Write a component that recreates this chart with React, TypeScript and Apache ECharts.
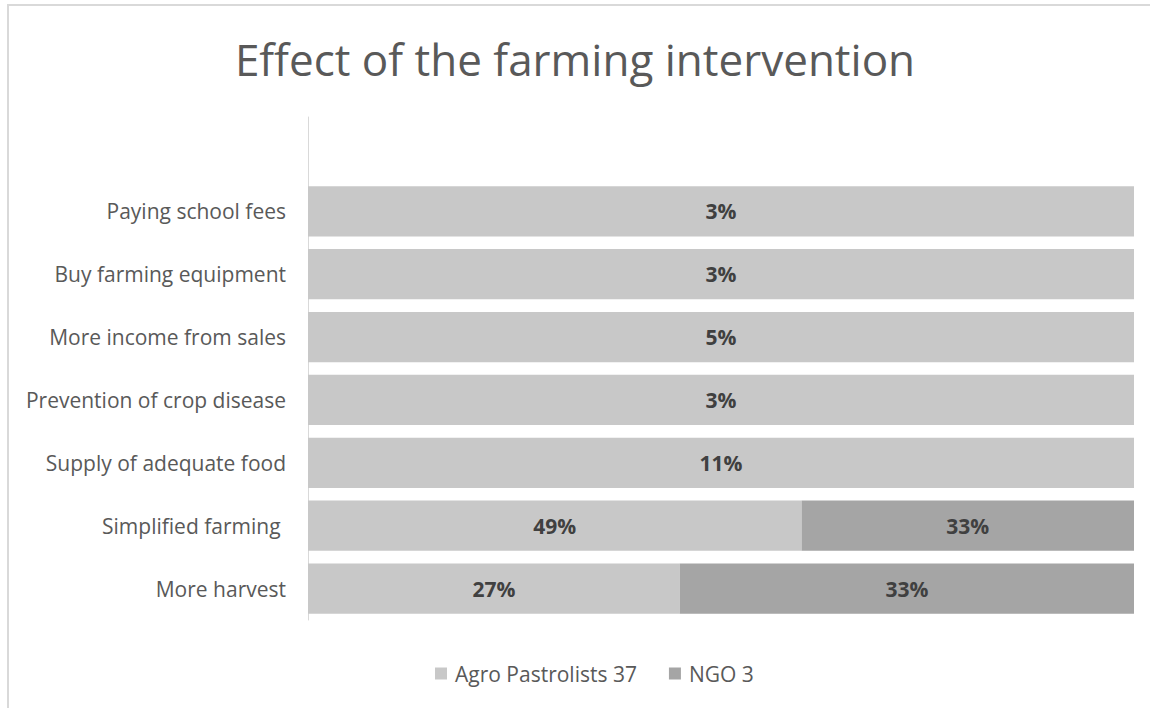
import React, { useEffect, useRef } from "react";
import * as echarts from "echarts";

const categories = [
  "",
  "Paying school fees",
  "Buy farming equipment",
  "More income from sales",
  "Prevention of crop disease",
  "Supply of adequate food",
  "Simplified farming ",
  "More harvest",
];
const agroValues: (number | null)[] = [null, 3, 3, 5, 3, 11, 49, 27];
const ngoValues: (number | null)[] = [null, 0, 0, 0, 0, 0, 33, 33];
const seriesNames = ["Agro Pastrolists 37", "NGO 3"];
const titleText = "Effect of the farming intervention";

const FONT = "Open Sans";

export default function App() {
  const ref = useRef<HTMLDivElement>(null);
  useEffect(() => {
    if (!ref.current) return;
    const chart = echarts.init(ref.current, undefined, { renderer: "svg" });
    const build = (vals: (number | null)[], other: (number | null)[]) =>
      vals.map((v, i) => {
        if (v === null) return { value: null };
        const tot = (v || 0) + (other[i] || 0);
        return {
          value: tot ? v / tot : 0,
          raw: v,
          label: { show: v > 0 },
        };
      });
    const labelCfg = {
      show: true,
      position: "inside",
      fontFamily: FONT,
      fontWeight: "bold",
      fontSize: 21,
      color: "#404040",
      formatter: (p: any) => (p.data && p.data.raw ? p.data.raw + "%" : ""),
    };
    chart.setOption({
      animation: false,
      backgroundColor: "#ffffff",
      title: {
        text: titleText,
        left: "center",
        top: 32,
        textStyle: {
          fontFamily: FONT,
          fontSize: 44,
          fontWeight: "normal",
          color: "#595959",
        },
      },
      legend: {
        top: 658,
        left: 430,
        itemWidth: 12,
        itemHeight: 12,
        itemGap: 32,
        icon: "rect",
        textStyle: {
          fontFamily: FONT,
          fontSize: 21,
          color: "#595959",
          padding: [0, 0, 0, 3],
        },
        data: seriesNames,
      },
      graphic: [
        {
          type: "rect",
          shape: { x: 8, y: 5, width: 1200, height: 800 },
          style: { fill: "none", stroke: "#d9d9d9", lineWidth: 2 },
          silent: true,
        },
      ],
      grid: { left: 308, right: 16, top: 117, bottom: 88 },
      xAxis: {
        type: "value",
        min: 0,
        max: 1,
        show: false,
      },
      yAxis: {
        type: "category",
        inverse: true,
        data: categories,
        axisLine: { show: true, lineStyle: { color: "#d9d9d9", width: 1 } },
        axisTick: { show: false },
        axisLabel: {
          fontFamily: FONT,
          fontSize: 21,
          color: "#595959",
          margin: 22,
        },
      },
      series: [
        {
          name: seriesNames[0],
          type: "bar",
          stack: "total",
          barCategoryGap: "20%",
          itemStyle: { color: "#c8c8c8" },
          label: labelCfg,
          data: build(agroValues, ngoValues),
        },
        {
          name: seriesNames[1],
          type: "bar",
          stack: "total",
          barCategoryGap: "20%",
          itemStyle: { color: "#a5a5a5" },
          label: labelCfg,
          data: build(ngoValues, agroValues),
        },
      ],
    });
    return () => chart.dispose();
  }, []);
  return (
    <div
      ref={ref}
      style={{ position: "absolute", left: 0, top: 0, width: 1150, height: 708 }}
    />
  );
}
